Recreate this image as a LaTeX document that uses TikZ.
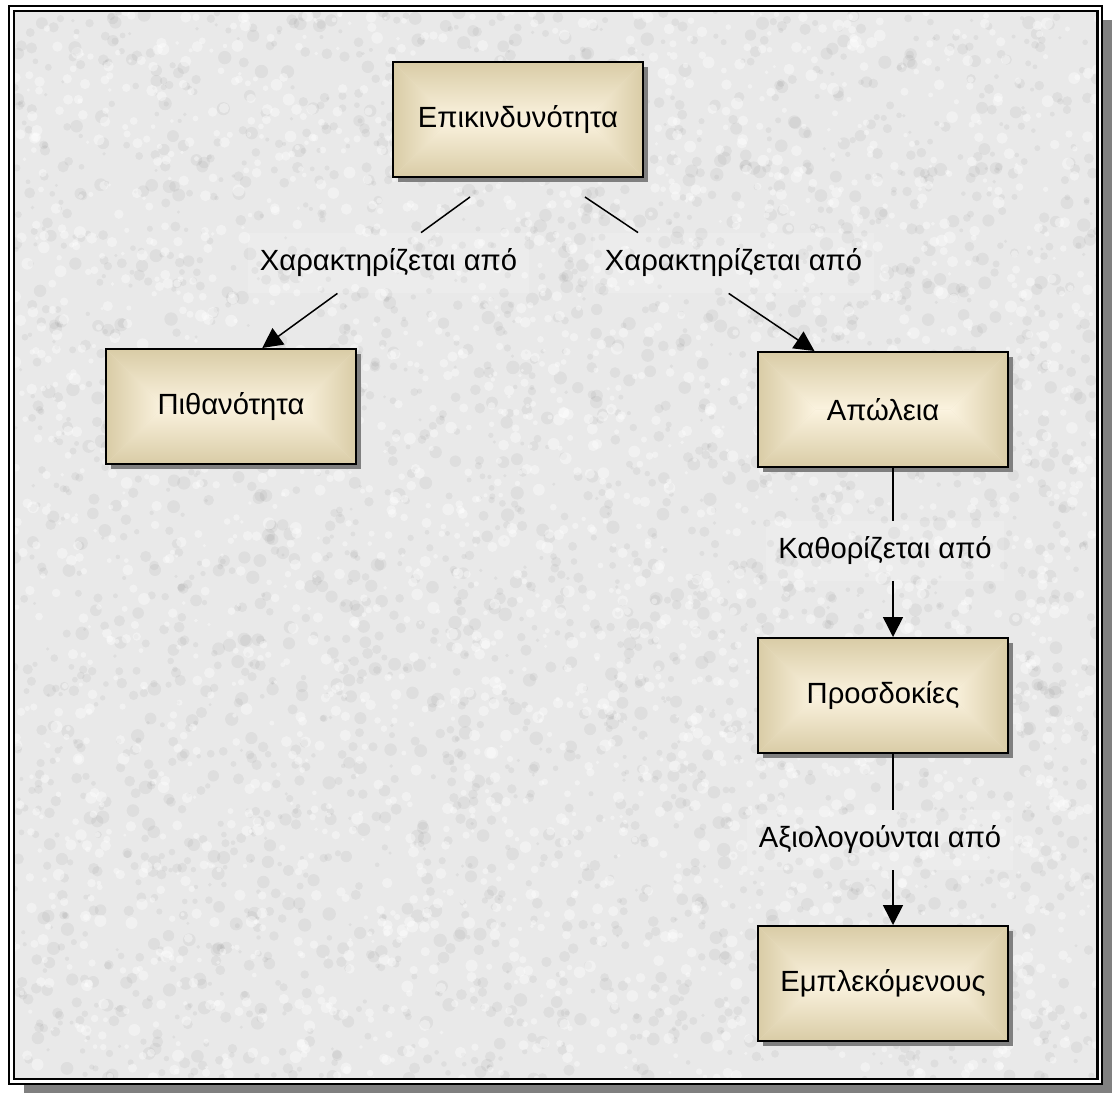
\documentclass[tikz,border=0pt]{standalone}
\usepackage{fontspec}
\setmainfont{Liberation Sans}
\usetikzlibrary{arrows.meta,calc,shadows}

\definecolor{edgetan}{HTML}{D9CCA6}
\definecolor{centrecream}{HTML}{FBF3E0}
\definecolor{midtan}{HTML}{EFE5CA}
\definecolor{shadowgray}{HTML}{808080}
\definecolor{paper}{HTML}{E9E9E9}

\tikzset{
  conceptbox/.style={
    draw=black, line width=1pt,
    minimum width=125pt, minimum height=57.5pt, inner sep=0pt,
    font=\fontsize{14.6}{17.5}\selectfont,
    general shadow={fill=shadowgray, shadow xshift=2.5pt, shadow yshift=-2.5pt},
    path picture={
      \coordinate (pNW) at (path picture bounding box.north west);
      \coordinate (pNE) at (path picture bounding box.north east);
      \coordinate (pSW) at (path picture bounding box.south west);
      \coordinate (pSE) at (path picture bounding box.south east);
      \coordinate (pCL) at ($(pNW)+(28.75pt,-28.75pt)$);
      \coordinate (pCR) at ($(pNE)+(-28.75pt,-28.75pt)$);
      \fill[midtan] (pSW) rectangle (pNE);
      \shade[top color=edgetan, bottom color=centrecream] (pNW) -- (pNE) -- (pCR) -- (pCL) -- cycle;
      \shade[bottom color=edgetan, top color=centrecream] (pSW) -- (pSE) -- (pCR) -- (pCL) -- cycle;
      \shade[left color=edgetan, right color=centrecream] (pNW) -- (pCL) -- (pSW) -- cycle;
      \shade[right color=edgetan, left color=centrecream] (pNE) -- (pCR) -- (pSE) -- cycle;
    }
  },
  linklabel/.style={
    fill=white, fill opacity=0.15, text opacity=1,
    minimum height=30pt, inner xsep=6pt, inner ysep=0pt,
    font=\fontsize{14.6}{17.5}\selectfont
  },
  link/.style={line width=0.75pt, draw=black},
  arrowlink/.style={link, -{Triangle[width=10pt,length=10pt]}}
}

\begin{document}
\begin{tikzpicture}[x=0.5pt,y=-0.5pt]
  \useasboundingbox (0,0) rectangle (1112,1093);

  % frame: offset shadow, white margin, double border
  \fill[shadowgray] (24,20) rectangle (1112,1093);
  \filldraw[fill=white, draw=black, line width=1pt] (8.5,5.5) rectangle (1102,1084);
  \fill[paper] (14,11) rectangle (1097.5,1079);

  % granite-like paper grain
  \begin{scope}
    \clip (14,11) rectangle (1097.5,1079);
    \pgfmathsetseed{7}
    \foreach \i in {1,...,3200}{
      \fill[black, opacity=0.045] ({14+1084*rnd},{11+1068*rnd}) circle[radius={0.8pt+2.6pt*rnd}];
    }
    \foreach \i in {1,...,2600}{
      \fill[white, opacity=0.4] ({14+1084*rnd},{11+1068*rnd}) circle[radius={0.8pt+2.2pt*rnd}];
    }
  \end{scope}
  \draw[black, line width=1.25pt] (14,11) rectangle (1097.5,1079);

  % concepts
  \node[conceptbox] (risk) at (518,119.5) {Επικινδυνότητα};
  \node[conceptbox] (prob) at (231,406.5) {Πιθανότητα};
  \node[conceptbox] (loss) at (883,409.5) {Απώλεια};
  \node[conceptbox] (expect) at (883,695.5) {Προσδοκίες};
  \node[conceptbox] (stake) at (883,983.5) {Εμπλεκόμενους};

  % relation labels
  \node[linklabel] (lblA) at (388.5,263) {Χαρακτηρίζεται από};
  \node[linklabel] (lblB) at (733.5,263) {Χαρακτηρίζεται από};
  \node[linklabel] (lblC) at (885,551) {Καθορίζεται από};
  \node[linklabel] (lblD) at (880,840) {Αξιολογούνται από};

  % connector ends
  \coordinate (sA) at ($(risk.south)+(-48,19)$);
  \coordinate (sB) at ($(risk.south)+(67,19)$);
  \coordinate (tA) at ($(prob.north west)!0.624!(prob.north east)$);
  \coordinate (tB) at ($(loss.north west)!0.228!(loss.north east)$);

  % diagonal connectors, broken by their labels
  \draw[link] (sA) -- (intersection of sA--tA and lblA.north west--lblA.north east);
  \draw[arrowlink] (intersection of sA--tA and lblA.south west--lblA.south east) -- (tA);
  \draw[link] (sB) -- (intersection of sB--tB and lblB.north west--lblB.north east);
  \draw[arrowlink] (intersection of sB--tB and lblB.south west--lblB.south east) -- (tB);

  % vertical connectors
  \draw[link] ([xshift=5pt]loss.south) -- ([xshift=5pt]loss.south |- lblC.north);
  \draw[arrowlink] ([xshift=5pt]loss.south |- lblC.south) -- ([xshift=5pt]expect.north);
  \draw[link] ([xshift=5pt]expect.south) -- ([xshift=5pt]expect.south |- lblD.north);
  \draw[arrowlink] ([xshift=5pt]expect.south |- lblD.south) -- ([xshift=5pt]stake.north);
\end{tikzpicture}
\end{document}
